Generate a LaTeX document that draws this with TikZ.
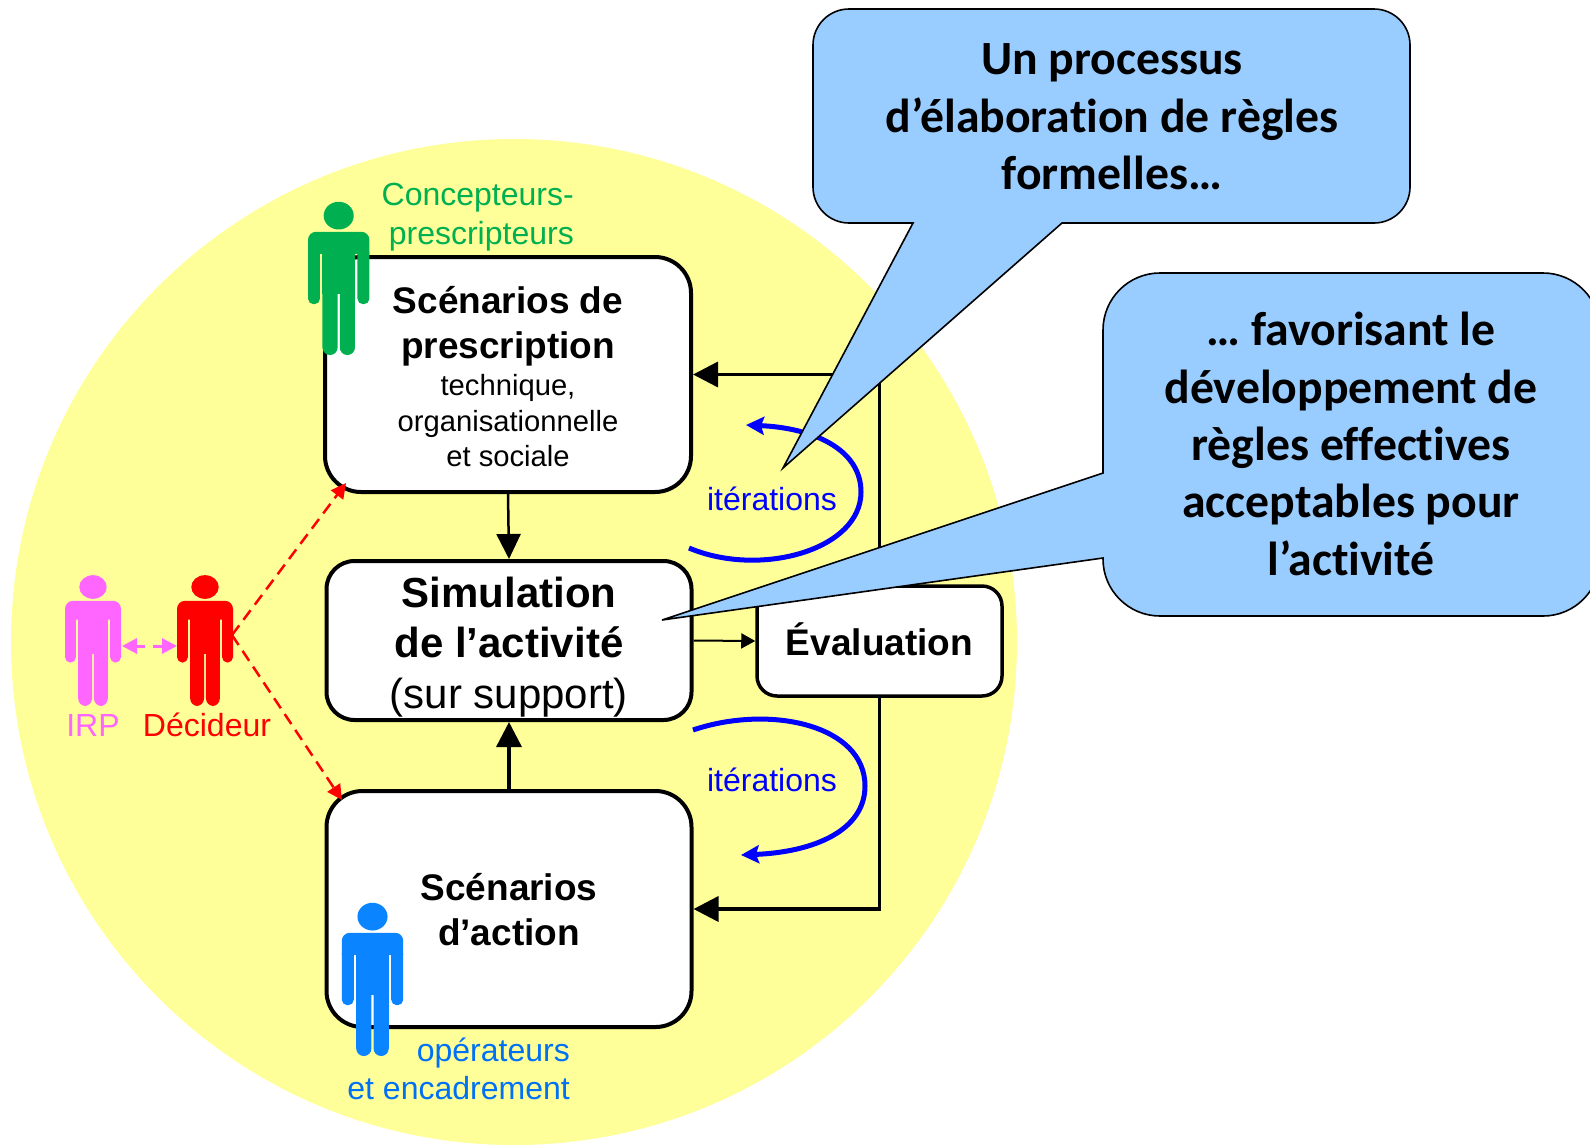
\documentclass[tikz,border=0pt]{standalone}
\usepackage{fontspec}
\setmainfont{Liberation Sans}
\newfontfamily\callfont{Carlito}[BoldFont={Carlito Bold},Ligatures=CommonOff]
\usetikzlibrary{arrows.meta}
\definecolor{bgyellow}{HTML}{FFFF99}
\definecolor{callblue}{HTML}{99CCFF}
\definecolor{cgreen}{HTML}{00B050}
\definecolor{cpink}{HTML}{FF66FF}
\definecolor{cblueman}{HTML}{0A85FF}
\definecolor{cbluetxt}{HTML}{0070F5}
\definecolor{citer}{HTML}{0000FF}
\newcommand{\bigbf}{\fontsize{37}{35.5}\selectfont\bfseries}
\newcommand{\smallrm}{\fontsize{29.2}{35.5}\selectfont\mdseries}
\newcommand{\simbf}{\fontsize{42}{50.5}\selectfont\bfseries}
\newcommand{\simrm}{\fontsize{42}{50.5}\selectfont\mdseries}
% colour, centre x, top y, half width, height
\newcommand{\personfig}[5]{%
  \begin{scope}[shift={(#2,#3)},x=#4pt,y=-#5pt]
    \fill[#1] (0,.095) ellipse [x radius=.49,y radius=.09];
    \fill[#1] (-1,.344) [rounded corners=8pt] -- (-1,.2) -- (1,.2) [sharp corners] -- (1,.344) -- cycle;
    \fill[#1,rounded corners=5.5pt] (-1,.3) -- (-1,.67) -- (-.61,.67) -- (-.61,.3) -- cycle;
    \fill[#1,rounded corners=5.5pt] (1,.3) -- (1,.67) -- (.61,.67) -- (.61,.3) -- cycle;
    \fill[#1] (-.53,.25) rectangle (.53,.604);
    \fill[#1,rounded corners=7.5pt] (-.53,.55) -- (-.53,1) -- (-.035,1) -- (-.035,.55) -- cycle;
    \fill[#1,rounded corners=7.5pt] (.53,.55) -- (.53,1) -- (.035,1) -- (.035,.55) -- cycle;
  \end{scope}}
\tikzset{
  mainbox/.style={draw=black,fill=white,line width=4pt,align=center,inner sep=0pt,text=black},
  flow/.style={draw=black,line width=3.5pt,-{Triangle[length=25pt,width=25pt]}},
  thinflow/.style={draw=black,line width=2pt,-{Triangle[length=14pt,width=15pt]}},
  iter/.style={draw=citer,line width=5pt,-{Stealth[length=18pt,width=18pt,inset=3pt]}},
  iterlab/.style={text=citer,font=\fontsize{32}{36}\selectfont,inner sep=0pt},
  reddash/.style={draw=red,line width=2.5pt,dash pattern=on 12pt off 7pt,-{Triangle[length=15pt,width=15pt]}},
  pinkdash/.style={draw=cpink,line width=3pt,dash pattern=on 9pt off 8pt,{Triangle[length=15pt,width=15pt]}-{Triangle[length=15pt,width=15pt]}},
  bubble/.style={draw=black,fill=callblue,line width=1.6pt,line join=miter},
  bubbletext/.style={font=\callfont\bfseries\fontsize{47.7}{57.3}\selectfont,align=center,inner sep=0pt,text=black}
}
\begin{document}
\begin{tikzpicture}[x=1pt,y=-1pt]
\useasboundingbox (0,0) rectangle (1590,1144);
\clip (0,0) rectangle (1590,1144);
\fill[bgyellow] (514,642) circle [radius=503pt];

\node[mainbox,font=\fontsize{29.2}{35.5}\selectfont,rounded corners=36pt,minimum width=366pt,minimum height=235pt] (scpres) at (508,374.5)
  {\rule{0pt}{32pt}\bigbf Scénarios de\\[9pt]\bigbf prescription\\[2pt]\smallrm technique,\\\smallrm organisationnelle\\\smallrm et sociale};
\node[mainbox,font=\fontsize{42}{50.5}\selectfont,rounded corners=28pt,minimum width=365pt,minimum height=159pt] (simul) at (509,640.5)
  {\rule{0pt}{43pt}\simbf Simulation\\\simbf de l’activité\\\simrm (sur support)};
\node[mainbox,font=\fontsize{37}{45}\selectfont\bfseries,rounded corners=36pt,minimum width=365pt,minimum height=236pt] (scact) at (509,909)
  {\rule{0pt}{29pt}Scénarios\\d’action};
\node[mainbox,font=\fontsize{37}{45}\selectfont\bfseries,line width=3.5pt,rounded corners=20pt,minimum width=245pt,minimum height=110pt,text height=32pt,text depth=4pt] (evalbox) at (879.5,641)
  {Évaluation};

\draw[line width=2.5pt,-{Triangle[length=25pt,width=24pt]}] (scpres.south) -- (simul.north);
\draw[flow] (scact.north) -- (simul.south);
\draw[thinflow] (simul.east) -- (evalbox.west);
\draw[flow] (evalbox.north) |- (scpres.east);
\draw[flow] (evalbox.south) |- (scact.east);

\draw[iter] (689,548) .. controls (760,578) and (861,550) .. (861,492) .. controls (861,450) and (815,428) .. (746,425);
\draw[iter] (693,730) .. controls (770,704) and (865,725) .. (865,786) .. controls (865,830) and (815,852) .. (741,855);
\node[iterlab] (iterA) at (772,499) {itérations};
\node[iterlab] (iterB) at (772,780) {itérations};

\personfig{cgreen}{338.7}{201}{30.7}{154}
\personfig{cblueman}{372.5}{902}{30.7}{154}
\personfig{cpink}{93}{574.5}{28}{131.5}
\personfig{red}{205}{574.5}{28}{131.5}

\coordinate (irpside) at (122,646);
\coordinate (decside) at (177,646);
\coordinate (decout) at (232,635);
\draw[pinkdash] (irpside) -- (decside);
\draw[reddash] (decout) -- (346,483);
\draw[reddash] (decout) -- (342,800);

\node[anchor=east,align=right,inner sep=0pt,text=cgreen,font=\fontsize{32}{39.5}\selectfont] (lconc) at (574,217) {Concepteurs-\\prescripteurs};
\node[anchor=east,align=right,inner sep=0pt,text=cbluetxt,font=\fontsize{32}{37.5}\selectfont] (lop) at (570,1069) {opérateurs\\et encadrement};
\node[text=cpink,inner sep=0pt,font=\fontsize{32}{36}\selectfont] (lirp) at (93,725) {IRP};
\node[text=red,inner sep=0pt,font=\fontsize{32}{36}\selectfont] (ldec) at (207,725) {Décideur};

\coordinate (tipA) at (783,468);
\coordinate (tipB) at (662,620);
\path[bubble,draw] (913,223) [rounded corners=36pt] -- (813,223) -- (813,9) -- (1410,9) -- (1410,223) [sharp corners] -- (1062,223) -- (tipA) -- cycle;
\path[bubble,draw] (1103,473) [rounded corners=57pt] -- (1103,273) -- (1600,273) -- (1600,616) -- (1103,616) [sharp corners] -- (1103,558) -- (tipB) -- cycle;
\node[bubbletext] (txtA) at (1112,117) {Un processus\\d’élaboration de règles\\formelles…};
\node[bubbletext] (txtB) at (1351,444) {… favorisant le\\développement de\\règles effectives\\acceptables pour\\l’activité};
\end{tikzpicture}
\end{document}
